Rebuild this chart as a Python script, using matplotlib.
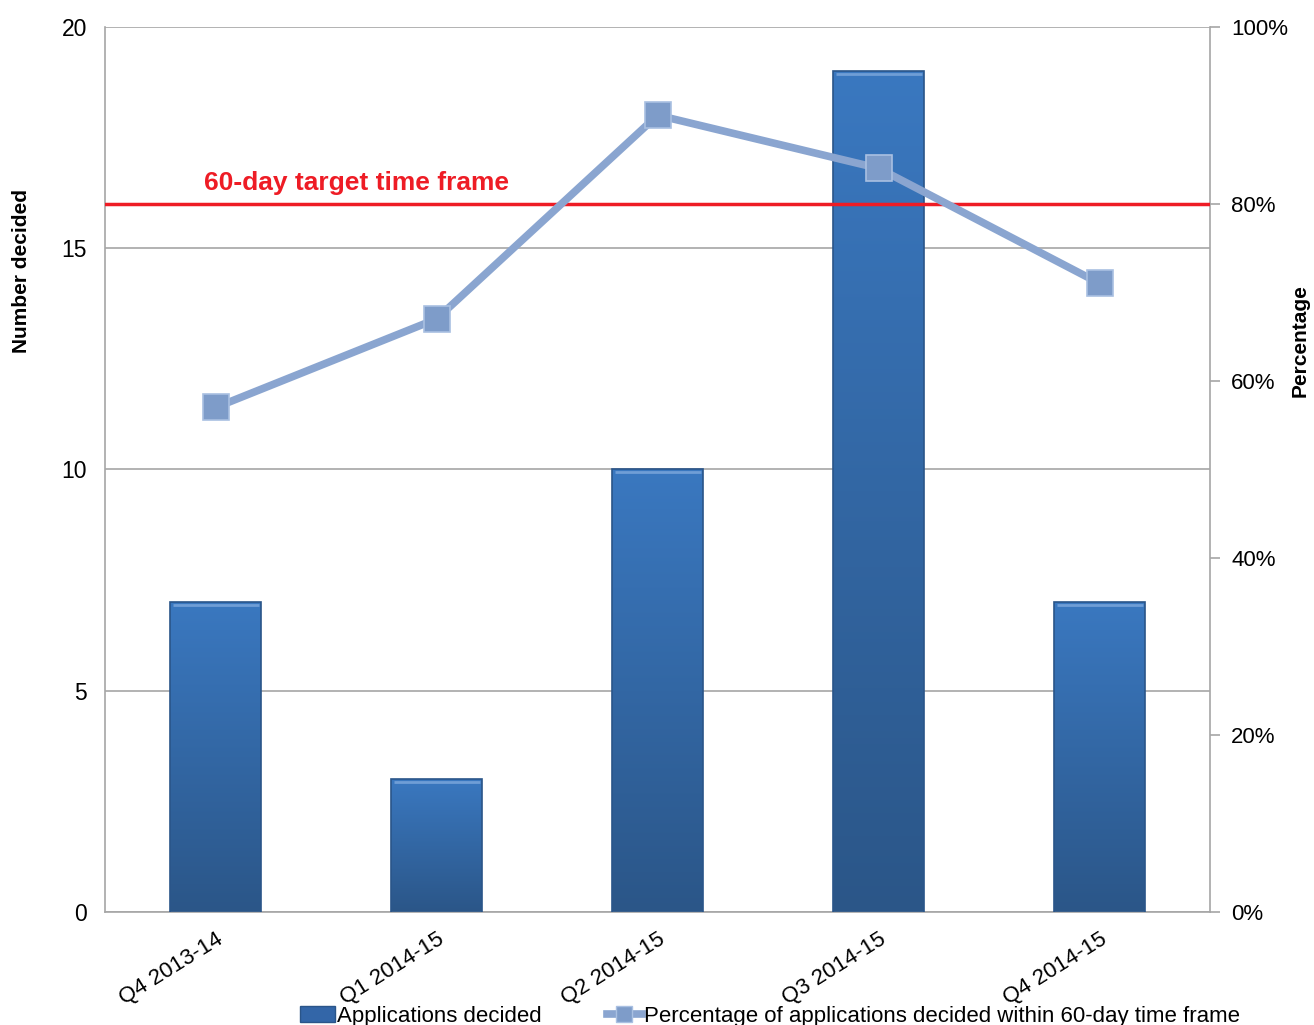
import matplotlib.pyplot as plt
import numpy as np
from matplotlib.colors import LinearSegmentedColormap
from matplotlib.lines import Line2D
from matplotlib.patches import Patch

quarters = ["Q4 2013-14", "Q1 2014-15", "Q2 2014-15", "Q3 2014-15", "Q4 2014-15"]
decided = [7, 3, 10, 19, 7]
pct_within = [57, 67, 90, 84, 71]
target_pct = 80

plt.rcParams["font.family"] = ["Liberation Sans", "DejaVu Sans"]

fig = plt.figure(figsize=(13.14, 10.25), dpi=100)
ax1 = fig.add_axes([0.080, 0.110, 0.841, 0.864])
ax2 = ax1.twinx()

x = np.arange(len(quarters))
bar_w = 0.41

# bars with a vertical light-to-dark gradient
grad = LinearSegmentedColormap.from_list("bar", ["#2b5688", "#3a78c0"])
bars = ax1.bar(x, decided, width=bar_w, color="none", edgecolor="#2a5589",
               linewidth=1.2, zorder=3)
for b in bars:
    x0, y0 = b.get_x(), b.get_y()
    w, h = b.get_width(), b.get_height()
    img = ax1.imshow(np.linspace(0, 1, 256).reshape(-1, 1), cmap=grad,
                     origin="lower", aspect="auto",
                     extent=[x0, x0 + w, y0, y0 + h], zorder=2)
    img.set_clip_path(b)
    # light top bevel
    ax1.plot([x0 + 0.01, x0 + w - 0.01], [h - 0.06, h - 0.06],
             color="#6f9ed6", lw=2, zorder=4, solid_capstyle="butt")

ax1.set_xlim(-0.5, len(quarters) - 0.5)
ax1.set_ylim(0, 20)
ax1.set_yticks([0, 5, 10, 15, 20])
ax1.yaxis.grid(True, color="#a6a6a6", linewidth=1.2)
ax1.set_axisbelow(True)
ax1.tick_params(axis="y", length=0, labelsize=16.5, pad=13)
ax1.tick_params(axis="x", length=0, labelsize=16, pad=12)
ax1.set_xticks(x)
ax1.set_xticklabels(quarters, rotation=32, ha="right", rotation_mode="anchor")
for side in ["left", "bottom"]:
    ax1.spines[side].set_color("#a6a6a6")
    ax1.spines[side].set_linewidth(1.2)
ax1.spines["top"].set_visible(False)
ax1.spines["right"].set_visible(False)

# axis titles sit above the middle of each axis
fig.text(22 / 1314, 1 - 271 / 1025, "Number decided", rotation=90,
         fontsize=15, fontweight="bold", ha="center", va="center")
fig.text(1300 / 1314, 1 - 341 / 1025, "Percentage", rotation=90,
         fontsize=15, fontweight="bold", ha="center", va="center")

# percentage line and the target threshold
ax2.axhline(target_pct, color="#ee1c25", linewidth=2.5, zorder=5)
ax2.text(-0.052, target_pct + 1.0, "60-day target time frame",
         color="#ee1c25", fontsize=19, fontweight="bold", ha="left",
         va="bottom")
ax2.plot(x, pct_within, color="#8aa5d0", linewidth=5.5, marker="s",
         markersize=19, markerfacecolor="#7e9cc9", markeredgecolor="#a9c0e2",
         markeredgewidth=1.2, zorder=6)
ax2.set_ylim(0, 100)
ax2.set_yticks(range(0, 101, 20))
ax2.set_yticklabels([f"{v}%" for v in range(0, 101, 20)])
ax2.tick_params(axis="y", length=7, color="#a6a6a6", width=1.2,
                labelsize=16, pad=8)
ax2.spines["right"].set_color("#a6a6a6")
ax2.spines["right"].set_linewidth(1.2)
for side in ["left", "bottom", "top"]:
    ax2.spines[side].set_visible(False)

handles = [
    Patch(facecolor="#3366a8", edgecolor="#2a5589"),
    Line2D([0], [0], color="#8aa5d0", linewidth=5.5, marker="s",
           markersize=12, markerfacecolor="#7e9cc9", markeredgecolor="#a9c0e2"),
]
fig.legend(handles, ["Applications decided",
                     "Percentage of applications decided within 60-day time frame"],
           loc="lower center", bbox_to_anchor=(0.586, -0.021), ncol=2,
           frameon=False, fontsize=16, handlelength=1.6, handletextpad=0.1,
           columnspacing=2.9)

fig.savefig("out.png", dpi=100)
